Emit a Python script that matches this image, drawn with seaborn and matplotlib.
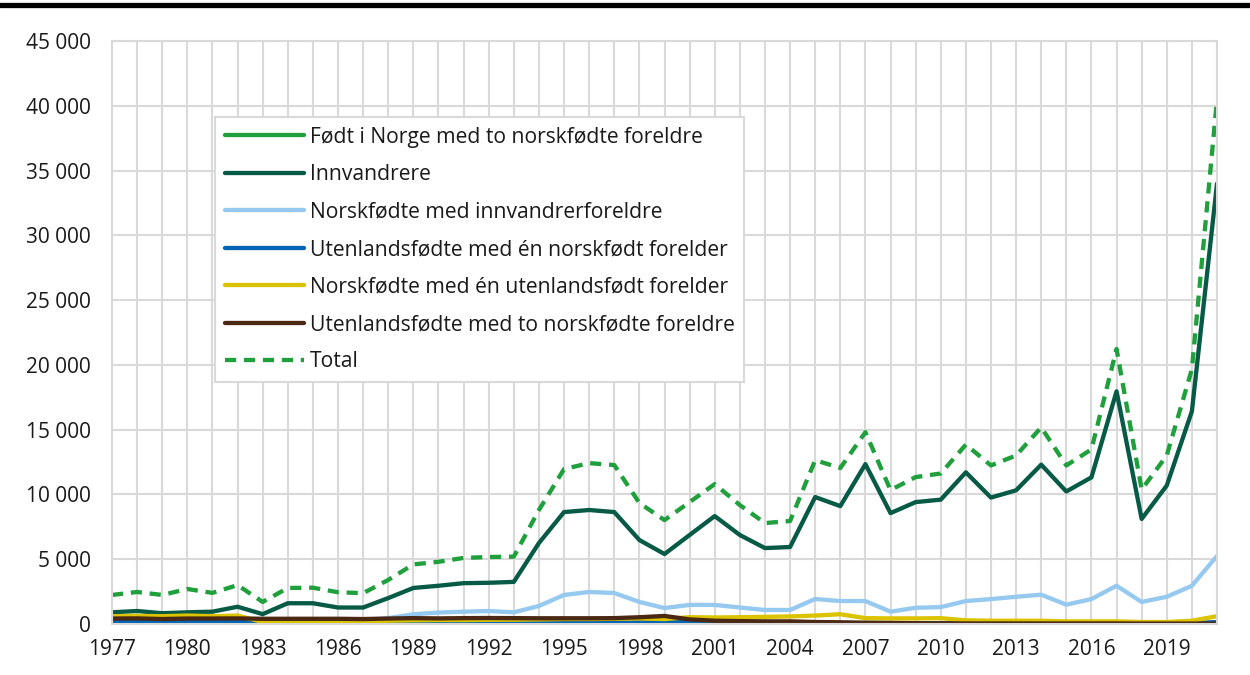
import numpy as np
import matplotlib.pyplot as plt
import matplotlib.ticker as mticker
import seaborn as sns

##________________________________ Data ________________________________##

years = list(range(1977, 2022))

fodt_norge = [30, 30, 30, 30, 30, 30, 20, 20, 20, 20, 20, 20, 20, 20, 20, 20, 20,
              20, 20, 20, 20, 20, 20, 20, 20, 20, 20, 20, 20, 20, 20, 20, 20,
              20, 20, 20, 20, 20, 20, 20, 20, 20, 20, 30, 80]

innvandrere = [900, 1000, 830, 900, 950, 1330, 760, 1600, 1600, 1270, 1270, 2000, 2780, 2950, 3150, 3180, 3250,
               6250, 8640, 8800, 8640, 6480, 5400, 6870, 8330, 6870, 5860, 5940, 9800, 9100, 12340, 8560, 9410,
               9600, 11710, 9760, 10320, 12300, 10230, 11320, 17960, 8110, 10690, 16420, 34000]

norskf_innv = [80, 80, 100, 120, 120, 120, 80, 120, 150, 180, 250, 450, 750, 880, 950, 1000, 900,
               1390, 2240, 2470, 2390, 1700, 1230, 1470, 1470, 1270, 1080, 1080, 1930, 1770, 1770, 950, 1250,
               1300, 1770, 1920, 2100, 2260, 1490, 1920, 2950, 1700, 2100, 2950, 5250]

utl_en_norsk = [150, 180, 200, 200, 200, 180, 40, 40, 40, 40, 40, 60, 60, 60, 60, 70, 80,
                100, 100, 100, 150, 150, 150, 150, 100, 80, 70, 60, 50, 50, 50, 50, 50,
                50, 50, 40, 40, 40, 40, 40, 40, 40, 40, 60, 150]

norskf_en_utl = [600, 620, 600, 650, 600, 650, 150, 180, 200, 200, 220, 250, 280, 300, 300, 320, 330,
                 350, 380, 380, 400, 420, 380, 520, 500, 520, 550, 580, 650, 750, 450, 430, 430,
                 450, 280, 250, 250, 250, 200, 200, 200, 150, 150, 250, 600]

utl_to_norsk = [420, 430, 380, 420, 420, 430, 400, 400, 400, 400, 380, 420, 450, 430, 450, 460, 450,
                440, 440, 440, 450, 520, 620, 350, 250, 220, 200, 200, 150, 130, 100, 80, 60,
                50, 40, 40, 40, 40, 40, 40, 40, 30, 30, 30, 30]

total = [2240, 2470, 2240, 2700, 2400, 3000, 1700, 2780, 2800, 2450, 2380, 3400, 4600, 4800, 5100, 5170, 5200,
         8800, 11960, 12420, 12270, 9340, 8020, 9410, 10800, 9180, 7790, 7950, 12650, 12040, 14810, 10340, 11340,
         11620, 13850, 12240, 13010, 15180, 12240, 13480, 21230, 10380, 13010, 19670, 40500]

series = [
    ("Født i Norge med to norskfødte foreldre", fodt_norge, "#1fa03c"),
    ("Innvandrere", innvandrere, "#075a45"),
    ("Norskfødte med innvandrerforeldre", norskf_innv, "#95c9ef"),
    ("Utenlandsfødte med én norskfødt forelder", utl_en_norsk, "#0064b4"),
    ("Norskfødte med én utenlandsfødt forelder", norskf_en_utl, "#dcc300"),
    ("Utenlandsfødte med to norskfødte foreldre", utl_to_norsk, "#4a2814"),
]

##________________________________ Plot ________________________________##

sns.set_style("white")
plt.rcParams['font.family'] = ['Open Sans', 'DejaVu Sans']

fig, ax = plt.subplots(figsize=(12.5, 6.75), dpi=100)
fig.subplots_adjust(left=0.0896, right=0.9736, top=0.939, bottom=0.0756)

for name, vals, col in series:
    sns.lineplot(x=years, y=vals, color=col, lw=3.1, label=name, ax=ax)

sns.lineplot(x=years, y=total, color="#1fa03c", lw=3.1, label="Total", ax=ax,
             linestyle=(0, (2.6, 1.8)))

ax.set_xlim(1977, 2021)
ax.set_ylim(0, 45000)
ax.set_xticks(range(1977, 2022, 3))
ax.set_xticks(range(1977, 2022), minor=True)
ax.set_yticks(range(0, 45001, 5000))
ax.yaxis.set_major_formatter(mticker.FuncFormatter(lambda v, p: f"{int(v):,}".replace(",", " ")))

ax.grid(True, which="both", axis="x", color="#d9d9d9", lw=1.5)
ax.grid(True, which="major", axis="y", color="#d9d9d9", lw=1.5)
ax.set_axisbelow(True)
for s in ax.spines.values():
    s.set_color("#d9d9d9")
    s.set_linewidth(1.5)

ax.tick_params(axis="both", which="both", length=0, labelsize=15, colors="#1a1a1a")
ax.tick_params(axis="y", pad=15)
ax.tick_params(axis="x", pad=11)
ax.set_xlabel("")
ax.set_ylabel("")

leg = ax.legend(loc="upper left", bbox_to_anchor=(0.0933, 0.8696), fontsize=15.2,
                frameon=True, fancybox=False, edgecolor="#d9d9d9", framealpha=1,
                borderaxespad=0, borderpad=0.45, handlelength=3.75, handletextpad=0.3,
                labelspacing=0.78)
leg.get_frame().set_linewidth(1.5)
for t in leg.get_texts():
    t.set_color("#1a1a1a")

# thick black rule at top of figure
fig.add_artist(plt.Line2D([0, 1], [0.992, 0.992], transform=fig.transFigure, color="black", lw=3.8))

plt.savefig("out.png", dpi=100)
